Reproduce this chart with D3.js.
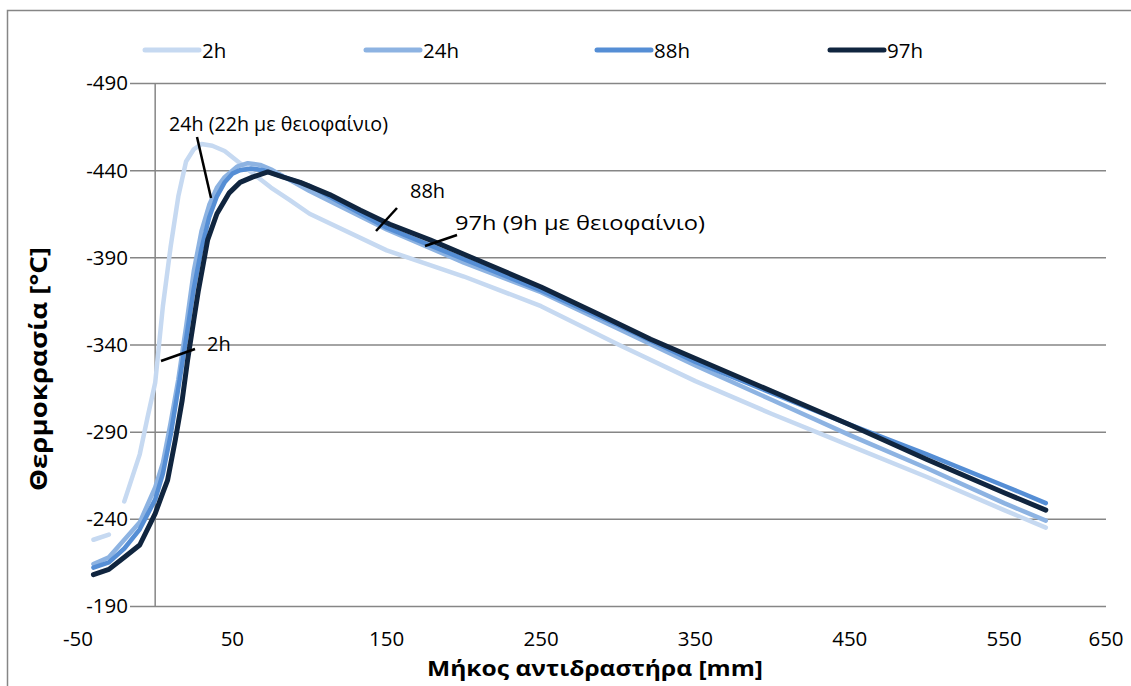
<title>Θερμοκρασία αντιδραστήρα</title>
<body style="margin:0;background:#fff"></body>
<style>
  text { font-family: "Open Sans", sans-serif; fill: #000; }
  .grid line { stroke: #868686; stroke-width: 1.5; }
  .series { fill: none; stroke-linejoin: round; stroke-linecap: round; }
</style>
<script src="https://d3js.org/d3.v7.min.js"></script>
<script>
// x: μήκος αντιδραστήρα [mm], y: θερμοκρασία [°C]
const seriesNames = ['2h', '24h', '88h', '97h'];
const seriesColors = ['#c6d9f1', '#8db3e2', '#558ed5', '#10253f'];

const s2h = [[-40, -228], [-30, -231], [-25, null], [-20, -250], [-10, -277], [-5, -298], [0, -318],
  [5, -362], [10, -396], [15, -425], [20, -445], [25, -452], [30, -455], [37, -454], [45, -451],
  [55, -444], [65, -437], [75, -430], [87, -423], [100, -415], [150, -394], [200, -379],
  [250, -362], [300, -340], [350, -319], [400, -300], [450, -282], [500, -264], [550, -245], [577, -235]];
const s24h = [[-40, -214], [-30, -218], [-20, -228], [-10, -238], [0, -258], [5, -272], [10, -295],
  [15, -320], [20, -350], [25, -382], [30, -405], [35, -420], [40, -430], [45, -436], [53, -442],
  [60, -444], [68, -443], [76, -440], [100, -428], [150, -406], [200, -387], [250, -370],
  [300, -349], [350, -328], [400, -308], [450, -288], [500, -269], [550, -249], [577, -239]];
const s88h = [[-40, -212], [-30, -215], [-20, -223], [-10, -234], [0, -251], [5, -266], [10, -288],
  [15, -315], [20, -343], [25, -372], [30, -395], [35, -413], [40, -425], [45, -433], [50, -438],
  [55, -440], [62, -441], [70, -440], [80, -437], [100, -431], [150, -407], [200, -389],
  [250, -371], [300, -351], [350, -330], [400, -312], [450, -294], [500, -277], [550, -259], [577, -249]];
const s97h = [[-40, -208], [-30, -211], [-20, -218], [-10, -225], [0, -243], [5, -255], [8, -262],
  [13, -285], [17.5, -308], [21, -331], [25, -354], [28, -371], [34, -400], [40, -415], [48, -427],
  [55, -433], [63, -436], [73, -439], [83, -436], [94, -433], [113, -426], [133, -417], [152, -409],
  [178, -400], [210, -388], [250, -373], [288, -357], [321, -343], [350, -332], [400, -313],
  [450, -294], [500, -274], [550, -255], [577, -245]];
const allSeries = [s2h, s24h, s88h, s97h];

const xTicks = [-50, 50, 150, 250, 350, 450, 550, 650];
const yTicks = [-490, -440, -390, -340, -290, -240, -190];

const labels = [
  { text: '24h (22h με θειοφαίνιο)', at: [169, 131], from: [197, 137], to: [211, 198] },
  { text: '88h', at: [410, 198], from: [397, 208], to: [376, 231] },
  { text: '97h (9h με θειοφαίνιο)', at: [455, 230], from: [457, 235], to: [425, 246] },
  { text: '2h', at: [207, 351], from: [195, 349], to: [161, 361] }
];

const W = 1131, H = 686;
const svg = d3.select('body').append('svg').attr('width', W).attr('height', H);

// outer frame (chart area is cropped on the right/bottom)
svg.append('path').attr('d', 'M7.5,690V10.5H1135')
  .attr('fill', 'none').attr('stroke', '#868686').attr('stroke-width', 1.5);

const x = d3.scaleLinear().domain([-50, 616]).range([78, 1106]);
const y = d3.scaleLinear().domain([-190, -490]).range([606, 83]);

// horizontal gridlines + y labels
const gy = svg.append('g').attr('class', 'grid').attr('transform', 'translate(130,0)')
  .call(d3.axisLeft(y).tickValues(yTicks).tickSize(-(1106 - 130)).tickPadding(2)
    .tickFormat(d => String(d)));
gy.select('.domain').remove();
gy.selectAll('text').attr('font-size', 20.5).attr('font-family', '"Open Sans", sans-serif')
  .attr('fill', '#000').attr('dy', '0.34em');

// vertical axis at x = 0
svg.append('line').attr('x1', x(0)).attr('x2', x(0)).attr('y1', y(-490)).attr('y2', y(-190))
  .attr('stroke', '#868686').attr('stroke-width', 1.5);

// x labels (last one pinned to the plot edge)
svg.append('g').selectAll('text').data(xTicks).join('text')
  .attr('x', d => Math.min(x(d), x.range()[1]))
  .attr('y', 646).attr('text-anchor', 'middle').attr('font-size', 20.5)
  .text(d => d);

// axis titles
svg.append('text').attr('x', 595).attr('y', 676).attr('text-anchor', 'middle')
  .attr('font-size', 21.5).attr('font-weight', 'bold')
  .attr('textLength', 336).attr('lengthAdjust', 'spacingAndGlyphs')
  .text('Μήκος αντιδραστήρα [mm]');
svg.append('text').attr('transform', 'translate(47,369) rotate(-90)').attr('text-anchor', 'middle')
  .attr('font-size', 23).attr('font-weight', 'bold')
  .attr('textLength', 244).attr('lengthAdjust', 'spacingAndGlyphs')
  .text('Θερμοκρασία [°C]');

// lines
const line = d3.line().defined(d => d[1] != null).x(d => x(d[0])).y(d => y(d[1]));
svg.append('g').selectAll('path').data(allSeries).join('path')
  .attr('class', 'series')
  .attr('stroke', (d, i) => seriesColors[i])
  .attr('stroke-width', (d, i) => i === 3 ? 5 : 4.5)
  .attr('d', line);

// legend
const legendX = [145, 366, 597, 830];
const lg = svg.append('g').selectAll('g').data(seriesNames).join('g')
  .attr('transform', (d, i) => `translate(${legendX[i]},50)`);
lg.append('line').attr('x1', 0).attr('x2', 54).attr('stroke', (d, i) => seriesColors[i])
  .attr('stroke-width', 5).attr('stroke-linecap', 'round');
lg.append('text').attr('x', 57).attr('y', 8).attr('font-size', 20.5).text(d => d);

// annotations
const ann = svg.append('g').selectAll('g').data(labels).join('g');
ann.append('line').attr('x1', d => d.from[0]).attr('y1', d => d.from[1])
  .attr('x2', d => d.to[0]).attr('y2', d => d.to[1]).attr('stroke', '#000').attr('stroke-width', 2.5);
ann.append('text').attr('x', d => d.at[0]).attr('y', d => d.at[1]).attr('font-size', 20)
  .attr('textLength', (d, i) => [219, null, 250, null][i])
  .attr('lengthAdjust', 'spacingAndGlyphs')
  .text(d => d.text);
</script>
